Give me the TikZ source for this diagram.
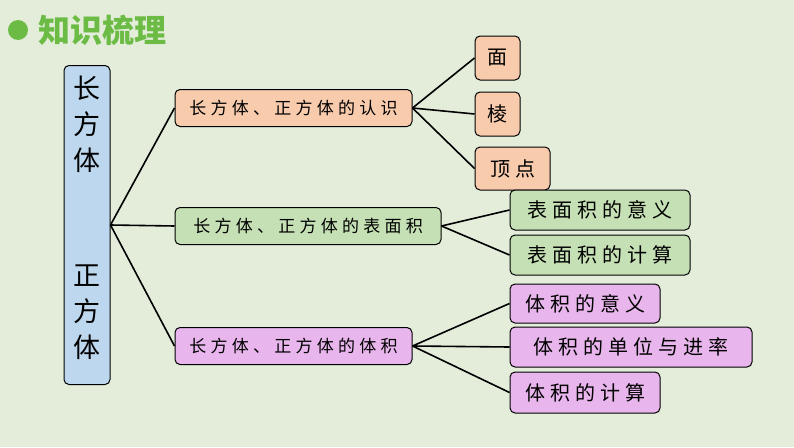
\documentclass[tikz,border=0pt]{standalone}
\usepackage{fontspec}
\setmainfont{Noto Sans CJK SC}
\definecolor{bgc}{HTML}{E3EDDA}
\definecolor{titlec}{HTML}{6CBB45}
\definecolor{bluec}{HTML}{BDD7EE}
\definecolor{orangec}{HTML}{F8CBAD}
\definecolor{greenc}{HTML}{C5E0B4}
\definecolor{pinkc}{HTML}{E8B5EC}
\begin{document}
\begin{tikzpicture}[x=1pt, y=-1pt, line width=1.6pt,
  box/.style = {draw, line width=1pt, rounded corners=5pt, inner sep=0pt, font=\fontsize{17}{19}\selectfont\addfontfeatures{LetterSpace=25}},
  leaf/.style = {box, font=\fontsize{20}{22}\selectfont\addfontfeatures{LetterSpace=25}}]
\fill[bgc] (0,0) rectangle (794,447);
\useasboundingbox (0,0) rectangle (794,447);
% title
\fill[titlec] (18,30) circle (10);
\node[anchor=west, text=titlec, font=\fontsize{32}{34}\selectfont\bfseries] (title) at (34,30) {知识梳理};
% main box
\node[box, fill=bluec, minimum width=46, minimum height=319] (main) at (87,225) {};
\node[font=\fontsize{27}{36}\selectfont, align=center] (top) at (87,124) {长\\方\\体};
\node[font=\fontsize{27}{36}\selectfont, align=center] (bot) at (87,312) {正\\方\\体};
% middle boxes
\node[box, fill=orangec, minimum width=237, minimum height=37] (a) at (293.5,108) {长方体、正方体的认识};
\node[box, fill=greenc, minimum width=266, minimum height=37] (b) at (308,226) {长方体、正方体的表面积};
\node[box, fill=pinkc, minimum width=237, minimum height=37] (c) at (293.5,346) {长方体、正方体的体积};
% leaves
\node[leaf, fill=orangec, minimum width=45, minimum height=44] (a1) at (497.5,58) {面};
\node[leaf, fill=orangec, minimum width=45, minimum height=44] (a2) at (497.5,114) {棱};
\node[leaf, fill=orangec, minimum width=75, minimum height=43] (a3) at (512.5,168.5) {顶点};
\node[leaf, fill=greenc, minimum width=180, minimum height=40] (b1) at (600,210) {表面积的意义};
\node[leaf, fill=greenc, minimum width=180, minimum height=40] (b2) at (600,255) {表面积的计算};
\node[leaf, fill=pinkc, minimum width=150, minimum height=39] (c1) at (585,303.5) {体积的意义};
\node[leaf, fill=pinkc, minimum width=242, minimum height=40] (c2) at (631,347) {体积的单位与进率};
\node[leaf, fill=pinkc, minimum width=150, minimum height=41] (c3) at (585,392.5) {体积的计算};
% connectors
\foreach \n in {a,b,c} \draw (main.east) -- (\n.west);
\foreach \n in {a1,a2,a3} \draw (a.east) -- (\n.west);
\foreach \n in {b1,b2} \draw (b.east) -- (\n.west);
\foreach \n in {c1,c2,c3} \draw (c.east) -- (\n.west);
\end{tikzpicture}
\end{document}
